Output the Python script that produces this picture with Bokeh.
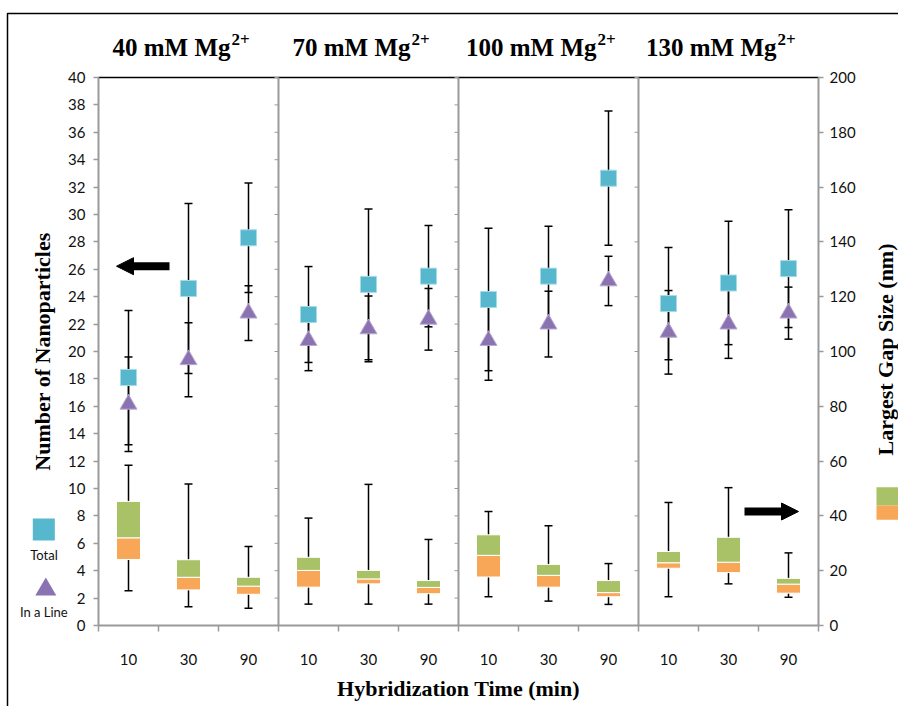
import math
from bokeh.plotting import figure
from bokeh.models import (Range1d, LinearAxis, FixedTicker, Whisker, TeeHead, ColumnDataSource,
                          Label, BoxAnnotation, Arrow, NormalHead)
from bokeh.embed import file_html
from bokeh.resources import INLINE

# ---------------- data ----------------
concentrations = ["40", "70", "100", "130"]          # mM Mg2+
times = ["10", "30", "90"]                            # hybridization time (min)

# Number of nanoparticles (left axis)
total_mean = [18.1, 24.6, 28.3, 22.7, 24.9, 25.5, 23.8, 25.5, 32.65, 23.5, 25.0, 26.05]
total_err = [4.9, 6.2, 4.0, 3.5, 5.5, 3.7, 5.2, 3.65, 4.9, 4.1, 4.5, 4.3]
line_mean = [16.15, 19.4, 22.8, 20.8, 21.65, 22.35, 20.8, 22.0, 25.15, 21.4, 22.0, 22.8]
line_err = [3.45, 2.7, 2.0, 2.2, 2.4, 2.25, 2.9, 2.4, 1.8, 3.05, 2.5, 1.9]

# Largest gap size (nm, right axis): box = q1..median (orange), median..q3 (green)
gap_min = [12.7, 6.8, 6.3, 7.8, 7.8, 7.8, 10.5, 8.9, 7.7, 10.5, 15.2, 10.3]
gap_q1 = [24.1, 13.0, 11.4, 14.0, 15.2, 11.6, 17.7, 14.0, 10.5, 20.9, 19.3, 11.8]
gap_median = [32.0, 17.6, 14.35, 20.1, 17.0, 13.9, 25.6, 18.3, 12.0, 22.9, 23.1, 15.1]
gap_q3 = [45.3, 24.0, 17.6, 24.9, 20.1, 16.4, 33.1, 22.3, 16.4, 27.0, 32.2, 17.2]
gap_max = [58.5, 51.6, 28.8, 39.2, 51.5, 31.4, 41.6, 36.4, 22.6, 44.9, 50.3, 26.5]

left_ticks = list(range(0, 41, 2))
right_ticks = list(range(0, 201, 20))

# ---------------- layout / styles ----------------
W, H = 898, 706
LEFT, RIGHT, TOP, BOTTOM = 98, 818, 77, 625     # pixel box of the plotting area
Y_MAX, G_MAX = 40, 200
n = len(concentrations) * len(times)

CYAN = "#56b7cd"
PURPLE = "#8a73b0"
GREEN = "#a9c267"
ORANGE = "#f8a657"
AXIS_GREY = "#9a9a9a"
SERIF = "Liberation Serif"
SANS = "Lato"

xpx = (RIGHT - LEFT) / n
ypx = (BOTTOM - TOP) / Y_MAX
gpx = (BOTTOM - TOP) / G_MAX

def px2x(px):
    return (px - LEFT) / xpx

def px2y(py):
    return (BOTTOM - py) / ypx

x_range = Range1d(px2x(0), px2x(W))
y_range = Range1d(px2y(H), px2y(0))
g_range = Range1d((BOTTOM - H) / gpx, BOTTOM / gpx)

xs = [i + 0.5 for i in range(n)]
tick_labels = [times[i % len(times)] for i in range(n)]

src = ColumnDataSource(dict(
    x=xs,
    tm=total_mean, t_lo=[m - e for m, e in zip(total_mean, total_err)],
    t_hi=[m + e for m, e in zip(total_mean, total_err)],
    lm=line_mean, l_lo=[m - e for m, e in zip(line_mean, line_err)],
    l_hi=[m + e for m, e in zip(line_mean, line_err)],
    gmin=gap_min, gq1=gap_q1, gmed=gap_median, gq3=gap_q3, gmax=gap_max,
))

p = figure(width=W, height=H, x_range=x_range, y_range=y_range, title=None,
           output_backend="svg", toolbar_location=None, min_border=0)
p.extra_y_ranges = {"gap": g_range}
p.xgrid.grid_line_color = None
p.ygrid.grid_line_color = None
p.outline_line_color = None
p.background_fill_color = "white"
p.border_fill_color = "white"

def style_axis(ax, standoff):
    ax.axis_line_color = AXIS_GREY
    ax.axis_line_width = 2
    ax.major_tick_line_color = AXIS_GREY
    ax.major_tick_line_width = 1.5
    ax.major_tick_out = 5
    ax.major_tick_in = 0
    ax.minor_tick_line_color = None
    ax.major_label_text_font = SANS
    ax.major_label_text_font_size = "15px"
    ax.major_label_text_color = "#111111"
    ax.major_label_standoff = standoff

# left axis
ly = p.yaxis[0]
ly.fixed_location = 0
ly.bounds = (0, Y_MAX)
ly.ticker = FixedTicker(ticks=left_ticks, minor_ticks=[])
style_axis(ly, 8)

# right axis
ry = LinearAxis(y_range_name="gap", fixed_location=n, bounds=(0, G_MAX),
                ticker=FixedTicker(ticks=right_ticks, minor_ticks=[]))
style_axis(ry, 6)
p.add_layout(ry, "right")

# bottom axis: labels at category centres, tick marks at category borders
bx = p.xaxis[0]
bx.fixed_location = 0
bx.bounds = (0, n)
bx.ticker = FixedTicker(ticks=xs, minor_ticks=list(range(n + 1)))
bx.major_label_overrides = {x: t for x, t in zip(xs, tick_labels)}
style_axis(bx, 22)
bx.major_tick_line_color = None
bx.major_tick_out = 0
bx.minor_tick_line_color = AXIS_GREY
bx.minor_tick_line_width = 1.5
bx.minor_tick_out = 6
bx.minor_tick_in = 0

# top line
p.segment(x0=[0], y0=[Y_MAX], x1=[n], y1=[Y_MAX], line_color="black", line_width=1.5)

# group separators (edges of the neighbouring panels, with their small ticks)
tick_len = 4 / xpx
for g in range(1, len(concentrations)):
    xsep = g * len(times)
    p.segment(x0=[xsep], y0=[0], x1=[xsep], y1=[Y_MAX], line_color=AXIS_GREY, line_width=2)
    if g == len(concentrations) - 1:
        p.segment(x0=[xsep] * len(right_ticks), y0=right_ticks,
                  x1=[xsep - tick_len] * len(right_ticks), y1=right_ticks,
                  y_range_name="gap", line_color=AXIS_GREY, line_width=1)
    else:
        p.segment(x0=[xsep] * len(left_ticks), y0=left_ticks,
                  x1=[xsep - tick_len] * len(left_ticks), y1=left_ticks,
                  line_color=AXIS_GREY, line_width=1)

# whiskers (behind the glyphs)
def whisk(lo, hi, rng="default"):
    w = Whisker(base="x", lower=lo, upper=hi, source=src, dimension="height",
                line_color="black", line_width=1.5, level="underlay", y_range_name=rng,
                upper_head=TeeHead(size=8, line_width=1.5, line_color="black"),
                lower_head=TeeHead(size=8, line_width=1.5, line_color="black"))
    p.add_layout(w)

whisk("gmin", "gmax", "gap")
whisk("l_lo", "l_hi")
whisk("t_lo", "t_hi")

# gap boxes
p.vbar(x="x", bottom="gq1", top="gmed", width=0.4, source=src, y_range_name="gap",
       fill_color=ORANGE, line_color="white", line_width=1)
p.vbar(x="x", bottom="gmed", top="gq3", width=0.4, source=src, y_range_name="gap",
       fill_color=GREEN, line_color="white", line_width=1)

# markers
p.scatter(x="x", y="lm", source=src, marker="triangle", size=17,
          fill_color=PURPLE, line_color="#b9a9d3", line_width=1)
p.scatter(x="x", y="tm", source=src, marker="square", size=16,
          fill_color=CYAN, line_color="#a6dbe7", line_width=1)

# group titles
for g, c in enumerate(concentrations):
    cx = g * len(times) + len(times) / 2
    dx = 42 + 6 * (len(c) - 2)
    p.add_layout(Label(x=cx, y=px2y(46.5), x_offset=dx, text=f"{c} mM Mg", text_align="right",
                       text_baseline="alphabetic", text_font=SERIF, text_font_style="bold",
                       text_font_size="25px", text_color="black"))
    p.add_layout(Label(x=cx, y=px2y(38.5), x_offset=dx + 1, text="2+", text_align="left",
                       text_baseline="alphabetic", text_font=SERIF, text_font_style="bold",
                       text_font_size="17px", text_color="black"))

# axis titles
p.add_layout(Label(x=px2x(42), y=px2y(351), text="Number of Nanoparticles", angle=math.pi / 2,
                   text_align="center", text_baseline="middle", text_font=SERIF,
                   text_font_style="bold", text_font_size="22px", text_color="black"))
p.add_layout(Label(x=px2x(885), y=px2y(349), text="Largest Gap Size (nm)", angle=math.pi / 2,
                   text_align="center", text_baseline="middle", text_font=SERIF,
                   text_font_style="bold", text_font_size="22px", text_color="black"))
p.add_layout(Label(x=n / 2, y=px2y(688), text="Hybridization Time (min)",
                   text_align="center", text_baseline="middle", text_font=SERIF,
                   text_font_style="bold", text_font_size="22px", text_color="black"))

# arrows pointing at the two axes
p.add_layout(Arrow(x_start=px2x(169), y_start=px2y(265.7), x_end=px2x(116), y_end=px2y(265.7),
                   line_width=8, line_color="black",
                   end=NormalHead(size=17, fill_color="black", line_color="black")))
p.add_layout(Arrow(x_start=px2x(744), y_start=px2y(511), x_end=px2x(798), y_end=px2y(511),
                   line_width=8, line_color="black",
                   end=NormalHead(size=17, fill_color="black", line_color="black")))

# left legend (Total / In a Line)
p.scatter(x=[px2x(43.3)], y=[px2y(529)], marker="square", size=22,
          fill_color=CYAN, line_color=None)
p.add_layout(Label(x=px2x(43.5), y=px2y(554), text="Total", text_align="center",
                   text_baseline="middle", text_font=SANS, text_font_size="13px",
                   text_color="#111111"))
p.scatter(x=[px2x(45.3)], y=[px2y(589)], marker="triangle", size=21,
          fill_color=PURPLE, line_color=None)
p.add_layout(Label(x=px2x(43.3), y=px2y(611.7), text="In a Line", text_align="center",
                   text_baseline="middle", text_font=SANS, text_font_size="13px",
                   text_color="#111111"))

# right legend (gap boxes)
p.add_layout(BoxAnnotation(left=px2x(876), right=px2x(W + 20), top=px2y(486.7), bottom=px2y(505),
                           fill_color=GREEN, fill_alpha=1, line_color=None))
p.add_layout(BoxAnnotation(left=px2x(876), right=px2x(W + 20), top=px2y(505), bottom=px2y(519.3),
                           fill_color=ORANGE, fill_alpha=1, line_color=None))

# outer frame of the figure
p.add_layout(BoxAnnotation(left=px2x(7), right=px2x(W + 50), top=px2y(13), bottom=px2y(H + 50),
                           fill_color=None, fill_alpha=0, line_color="black", line_alpha=1,
                           line_width=1.5))

open("out.html", "w").write(file_html(p, INLINE))
